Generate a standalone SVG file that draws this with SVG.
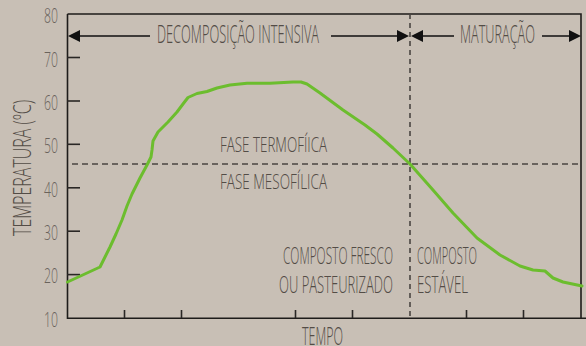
<svg xmlns="http://www.w3.org/2000/svg" width="586" height="346" viewBox="0 0 586 346">
<defs>
<style>
.t{font-family:"Open Sans","Liberation Sans",sans-serif;font-weight:300;fill:#534c46;}
.num{font-family:"Open Sans","Liberation Sans",sans-serif;font-weight:300;fill:#6a635c;text-anchor:end;}
.ax{stroke:#1e1c1a;stroke-width:1.6;fill:none;}
.tick{stroke:#2a2725;stroke-width:1.6;}
.dash{stroke:#4a4541;stroke-width:1.6;fill:none;}
.arr{stroke:#111;stroke-width:1.6;fill:none;}
.head{fill:#111;}
</style>
</defs>
<rect width="586" height="346" fill="#c8bfb5"/>
<g id="axes">
<path class="ax" d="M67.5,14 H581 V318.3 M67.5,14 V318.3 H586"/>
<g class="tick">
<line x1="67" y1="57.5" x2="80" y2="57.5"/>
<line x1="67" y1="101" x2="80" y2="101"/>
<line x1="67" y1="144.3" x2="80" y2="144.3"/>
<line x1="67" y1="187.8" x2="80" y2="187.8"/>
<line x1="67" y1="231.2" x2="80" y2="231.2"/>
<line x1="67" y1="274.6" x2="80" y2="274.6"/>
<line x1="124.5" y1="310" x2="124.5" y2="318"/>
<line x1="181.5" y1="310" x2="181.5" y2="318"/>
<line x1="295.5" y1="310" x2="295.5" y2="318"/>
<line x1="352.5" y1="310" x2="352.5" y2="318"/>
<line x1="466.5" y1="310" x2="466.5" y2="318"/>
<line x1="523.5" y1="310" x2="523.5" y2="318"/>
</g>
<g class="num" font-size="21">
<text x="58" y="23" textLength="14" lengthAdjust="spacingAndGlyphs">80</text>
<text x="58" y="67" textLength="14" lengthAdjust="spacingAndGlyphs">70</text>
<text x="58" y="110" textLength="14" lengthAdjust="spacingAndGlyphs">60</text>
<text x="58" y="153" textLength="14" lengthAdjust="spacingAndGlyphs">50</text>
<text x="58" y="197" textLength="14" lengthAdjust="spacingAndGlyphs">40</text>
<text x="58" y="240" textLength="14" lengthAdjust="spacingAndGlyphs">30</text>
<text x="58" y="283" textLength="14" lengthAdjust="spacingAndGlyphs">20</text>
<text x="58" y="327" textLength="14" lengthAdjust="spacingAndGlyphs">10</text>
</g>
<text class="t" font-size="25" transform="translate(31,236) rotate(-90)" textLength="136" lengthAdjust="spacingAndGlyphs">TEMPERATURA (ºC)</text>
<text class="t" font-size="25" x="302" y="345" textLength="41" lengthAdjust="spacingAndGlyphs">TEMPO</text>
</g>
<g id="connectors">
<path class="dash" d="M72,164 H582" stroke-dasharray="6 4"/>
<path class="dash" d="M410,14 V318" stroke-dasharray="5 4"/>
<path class="arr" d="M78,36 H150 M331,36 H400 M420,36 H454 M542,36 H572"/>
<path class="head" d="M68,36 L80,30 V42 Z"/>
<path class="head" d="M409,36 L397,30 V42 Z"/>
<path class="head" d="M411,36 L423,30 V42 Z"/>
<path class="head" d="M581,36 L569,30 V42 Z"/>
</g>
<g id="curve">
<path d="M67.5,282 L100,267 L105,257 L110,247 L116,234 L122,220 L127,206 L132,194 L140,178 L147,165 L151,157 L152,150 L153,141 L158,132 L168,122 L177,112 L183,104 L188,97.5 L197,93.5 L207,91.5 L217,88 L230,85 L247,83.3 L270,83.3 L293,82 L301,82 L307,84 L320,93 L343,110 L365,125 L377,134 L393,148 L410,164 L433,190 L453,213 L477,238 L500,255 L520,266 L533,270 L545,271 L553,278 L563,282 L582,286" fill="none" stroke="#6cbd2e" stroke-width="3" stroke-linejoin="round" stroke-linecap="round"/>
</g>
<g id="label-decomposicao">
<text class="t" font-size="25" x="157" y="43" textLength="162" lengthAdjust="spacingAndGlyphs">DECOMPOSIÇÃO INTENSIVA</text>
</g>
<g id="label-maturacao">
<text class="t" font-size="25" x="460" y="43" textLength="75" lengthAdjust="spacingAndGlyphs">MATURAÇÃO</text>
</g>
<g id="label-termofilica">
<text class="t" font-size="21" x="220" y="152" textLength="107" lengthAdjust="spacingAndGlyphs">FASE TERMOFÍICA</text>
</g>
<g id="label-mesofilica">
<text class="t" font-size="21" x="220" y="189" textLength="107" lengthAdjust="spacingAndGlyphs">FASE MESOFÍLICA</text>
</g>
<g id="label-fresco">
<text class="t" font-size="23" x="283" y="264" textLength="110" lengthAdjust="spacingAndGlyphs">COMPOSTO FRESCO</text>
<text class="t" font-size="23" x="279" y="293" textLength="114" lengthAdjust="spacingAndGlyphs">OU PASTEURIZADO</text>
</g>
<g id="label-estavel">
<text class="t" font-size="23" x="417" y="264" textLength="60" lengthAdjust="spacingAndGlyphs">COMPOSTO</text>
<text class="t" font-size="23" x="417" y="293" textLength="51" lengthAdjust="spacingAndGlyphs">ESTÁVEL</text>
</g>
</svg>
